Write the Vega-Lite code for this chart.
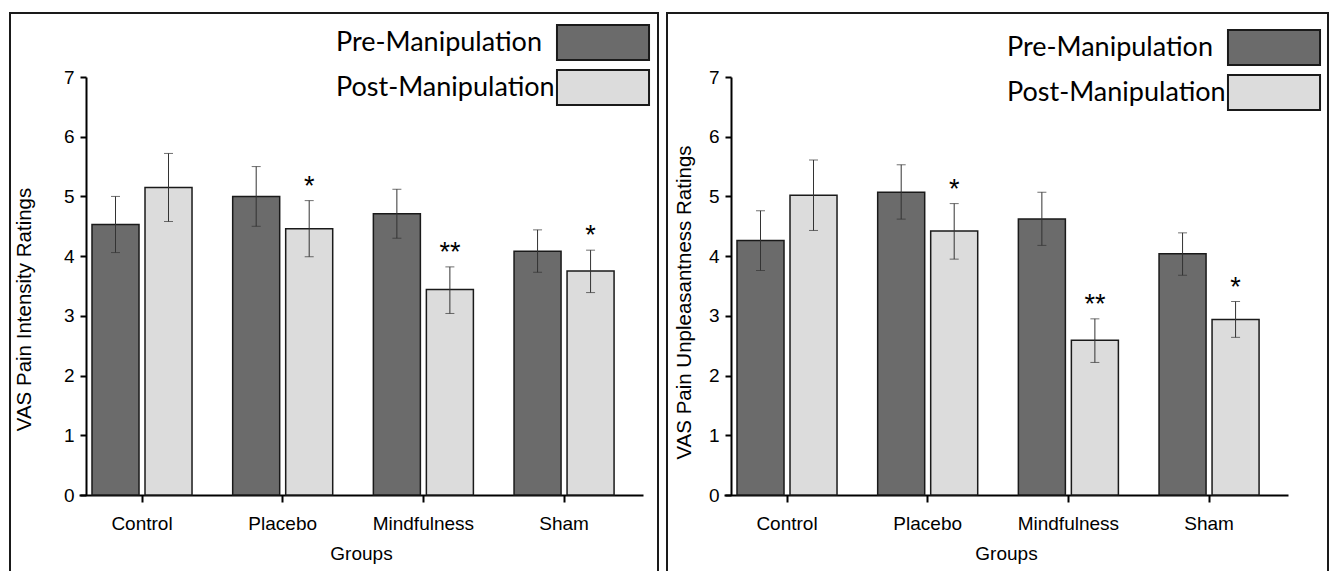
{
  "$schema": "https://vega.github.io/schema/vega-lite/v6.json",
  "padding": {"left": 9, "top": 12, "right": 0, "bottom": 0},
  "background": "white",
  "spacing": 9,
  "bounds": "flush",
  "config": {
    "view": {"stroke": "#1a1a1a", "strokeWidth": 2},
    "axis": {
      "labelFont": "Liberation Sans", "titleFont": "Liberation Sans",
      "labelFontSize": 19, "titleFontSize": 19, "titleFontWeight": "normal",
      "labelColor": "black", "titleColor": "black",
      "domainColor": "black", "tickColor": "black",
      "domainWidth": 2, "tickWidth": 2, "grid": false
    },
    "legend": {
      "symbolType": "M-2.63,-1H2.63V1H-2.63Z", "symbolSize": 1225,
      "symbolStrokeColor": "#1a1a1a", "symbolStrokeWidth": 2,
      "symbolOffset": 248.5, "labelOffset": -285.5,
      "labelFont": "Lato", "labelFontSize": 27, "labelColor": "black",
      "labelAlign": "left", "labelLimit": 400, "rowPadding": 2, "padding": 0
    }
  },
  "datasets": {
    "intensity": [
      {"group": "Control", "phase": "Pre-Manipulation", "mean": 4.53, "lower": 4.06, "upper": 5.00, "sig": ""},
      {"group": "Control", "phase": "Post-Manipulation", "mean": 5.15, "lower": 4.58, "upper": 5.72, "sig": ""},
      {"group": "Placebo", "phase": "Pre-Manipulation", "mean": 5.00, "lower": 4.50, "upper": 5.50, "sig": ""},
      {"group": "Placebo", "phase": "Post-Manipulation", "mean": 4.46, "lower": 3.99, "upper": 4.93, "sig": "*"},
      {"group": "Mindfulness", "phase": "Pre-Manipulation", "mean": 4.71, "lower": 4.30, "upper": 5.12, "sig": ""},
      {"group": "Mindfulness", "phase": "Post-Manipulation", "mean": 3.44, "lower": 3.04, "upper": 3.82, "sig": "**"},
      {"group": "Sham", "phase": "Pre-Manipulation", "mean": 4.08, "lower": 3.73, "upper": 4.44, "sig": ""},
      {"group": "Sham", "phase": "Post-Manipulation", "mean": 3.75, "lower": 3.39, "upper": 4.10, "sig": "*"}
    ],
    "unpleasant": [
      {"group": "Control", "phase": "Pre-Manipulation", "mean": 4.26, "lower": 3.76, "upper": 4.76, "sig": ""},
      {"group": "Control", "phase": "Post-Manipulation", "mean": 5.02, "lower": 4.43, "upper": 5.61, "sig": ""},
      {"group": "Placebo", "phase": "Pre-Manipulation", "mean": 5.07, "lower": 4.62, "upper": 5.53, "sig": ""},
      {"group": "Placebo", "phase": "Post-Manipulation", "mean": 4.42, "lower": 3.95, "upper": 4.88, "sig": "*"},
      {"group": "Mindfulness", "phase": "Pre-Manipulation", "mean": 4.62, "lower": 4.18, "upper": 5.07, "sig": ""},
      {"group": "Mindfulness", "phase": "Post-Manipulation", "mean": 2.59, "lower": 2.22, "upper": 2.95, "sig": "**"},
      {"group": "Sham", "phase": "Pre-Manipulation", "mean": 4.04, "lower": 3.68, "upper": 4.39, "sig": ""},
      {"group": "Sham", "phase": "Post-Manipulation", "mean": 2.94, "lower": 2.64, "upper": 3.24, "sig": "*"}
    ]
  },
  "hconcat": [
    {
      "width": 648, "height": 575,
      "data": {"name": "intensity"},
      "encoding": {
        "x": {"field": "group", "type": "nominal", "sort": ["Control", "Placebo", "Mindfulness", "Sham"],
          "scale": {"range": [69, 633], "paddingInner": 0.289, "paddingOuter": 0.149, "align": 0.31},
          "axis": {"title": "Groups", "labelAngle": 0, "offset": -93, "tickSize": 7, "labelPadding": 12, "titlePadding": 11}},
        "xOffset": {"field": "phase", "type": "nominal", "sort": ["Pre-Manipulation", "Post-Manipulation"],
          "scale": {"paddingInner": 0.113, "paddingOuter": 0}}
      },
      "layer": [
        {
          "mark": {"type": "bar", "stroke": "#1a1a1a", "strokeWidth": 1.5},
          "encoding": {
            "y": {"field": "mean", "type": "quantitative",
              "scale": {"domain": [0, 7], "range": [482, 64], "nice": false, "zero": true},
              "axis": {"title": "VAS Pain Intensity Ratings", "format": "d", "offset": -76, "tickSize": 6, "labelPadding": 6, "titleX": -62, "titleY": 296, "titleBaseline": "middle", "titleFontSize": 20.5, "values": [0, 1, 2, 3, 4, 5, 6, 7]}},
            "color": {"field": "phase", "type": "nominal", "sort": ["Pre-Manipulation", "Post-Manipulation"],
              "scale": {"domain": ["Pre-Manipulation", "Post-Manipulation"], "range": ["#6b6b6b", "#dcdcdc"]},
              "legend": {"title": null, "orient": "none", "legendX": 326, "legendY": 11}}
          }
        },
        {
          "mark": {"type": "rule", "color": "#333333", "strokeWidth": 1},
          "encoding": {"y": {"field": "lower", "type": "quantitative", "title": "VAS Pain Intensity Ratings"}, "y2": {"field": "upper"}}
        },
        {
          "mark": {"type": "tick", "orient": "horizontal", "size": 9, "thickness": 1, "color": "#333333"},
          "encoding": {"y": {"field": "lower", "type": "quantitative", "title": "VAS Pain Intensity Ratings"}}
        },
        {
          "mark": {"type": "tick", "orient": "horizontal", "size": 9, "thickness": 1, "color": "#333333"},
          "encoding": {"y": {"field": "upper", "type": "quantitative", "title": "VAS Pain Intensity Ratings"}}
        },
        {
          "mark": {"type": "text", "font": "Liberation Sans", "fontSize": 27, "baseline": "alphabetic", "dy": -6, "color": "black"},
          "encoding": {"y": {"field": "upper", "type": "quantitative", "title": "VAS Pain Intensity Ratings"}, "text": {"field": "sig"}}
        }
      ]
    },
    {
      "width": 661, "height": 575,
      "data": {"name": "unpleasant"},
      "encoding": {
        "x": {"field": "group", "type": "nominal", "sort": ["Control", "Placebo", "Mindfulness", "Sham"],
          "scale": {"range": [57, 621], "paddingInner": 0.289, "paddingOuter": 0.149, "align": 0.31},
          "axis": {"title": "Groups", "labelAngle": 0, "offset": -93, "tickSize": 7, "labelPadding": 12, "titlePadding": 11}},
        "xOffset": {"field": "phase", "type": "nominal", "sort": ["Pre-Manipulation", "Post-Manipulation"],
          "scale": {"paddingInner": 0.113, "paddingOuter": 0}}
      },
      "layer": [
        {
          "mark": {"type": "bar", "stroke": "#1a1a1a", "strokeWidth": 1.5},
          "encoding": {
            "y": {"field": "mean", "type": "quantitative",
              "scale": {"domain": [0, 7], "range": [482, 64], "nice": false, "zero": true},
              "axis": {"title": "VAS Pain Unpleasantness Ratings", "format": "d", "offset": -64, "tickSize": 6, "labelPadding": 6, "titleX": -47, "titleY": 289, "titleBaseline": "middle", "titleFontSize": 20.5, "values": [0, 1, 2, 3, 4, 5, 6, 7]}},
            "color": {"field": "phase", "type": "nominal", "sort": ["Pre-Manipulation", "Post-Manipulation"],
              "scale": {"domain": ["Pre-Manipulation", "Post-Manipulation"], "range": ["#6b6b6b", "#dcdcdc"]},
              "legend": {"title": null, "orient": "none", "legendX": 340, "legendY": 16}}
          }
        },
        {
          "mark": {"type": "rule", "color": "#333333", "strokeWidth": 1},
          "encoding": {"y": {"field": "lower", "type": "quantitative", "title": "VAS Pain Unpleasantness Ratings"}, "y2": {"field": "upper"}}
        },
        {
          "mark": {"type": "tick", "orient": "horizontal", "size": 9, "thickness": 1, "color": "#333333"},
          "encoding": {"y": {"field": "lower", "type": "quantitative", "title": "VAS Pain Unpleasantness Ratings"}}
        },
        {
          "mark": {"type": "tick", "orient": "horizontal", "size": 9, "thickness": 1, "color": "#333333"},
          "encoding": {"y": {"field": "upper", "type": "quantitative", "title": "VAS Pain Unpleasantness Ratings"}}
        },
        {
          "mark": {"type": "text", "font": "Liberation Sans", "fontSize": 27, "baseline": "alphabetic", "dy": -6, "color": "black"},
          "encoding": {"y": {"field": "upper", "type": "quantitative", "title": "VAS Pain Unpleasantness Ratings"}, "text": {"field": "sig"}}
        }
      ]
    }
  ],
  "resolve": {"scale": {"x": "independent", "y": "independent", "color": "independent", "xOffset": "independent"}, "legend": {"color": "independent"}}
}
